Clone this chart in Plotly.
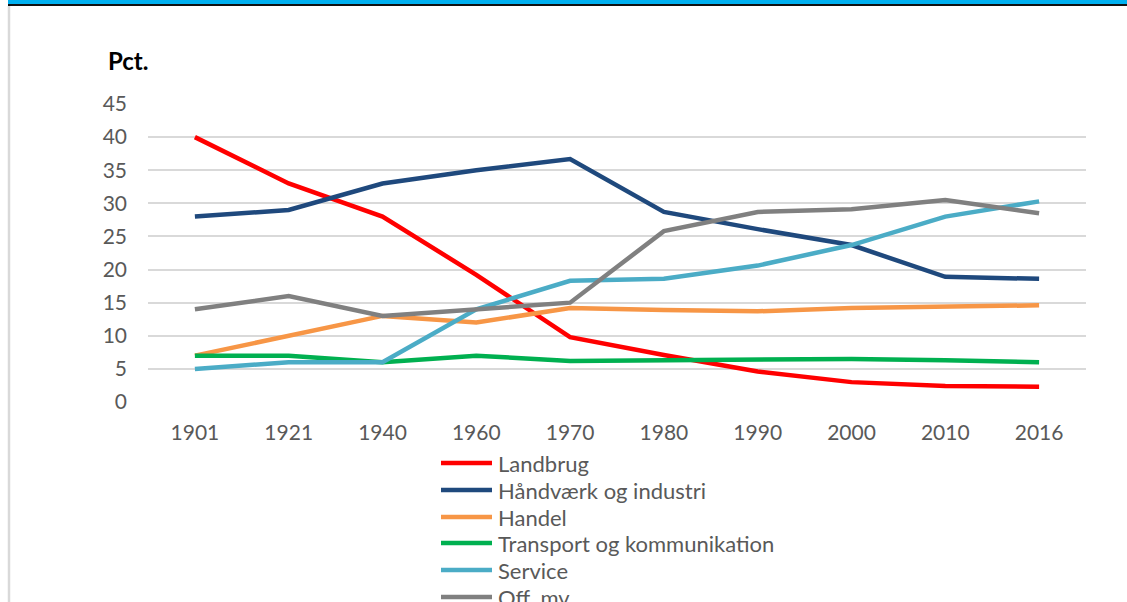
import plotly.graph_objects as go

years = ['1901', '1921', '1940', '1960', '1970', '1980', '1990', '2000', '2010', '2016']

landbrug = [40, 33, 28, 19.2, 9.8, 7.1, 4.6, 3.0, 2.4, 2.3]
industri = [28, 29, 33, 35, 36.7, 28.7, 26.1, 23.7, 18.9, 18.6]
handel = [7, 10, 13, 12, 14.2, 13.9, 13.7, 14.2, 14.4, 14.6]
transport = [7, 7, 6, 7, 6.2, 6.3, 6.5, 6.5, 6.3, 6.0]
service = [5, 6, 6, 14, 18.3, 18.6, 20.6, 23.7, 28.0, 30.3]
off_mv = [14, 16, 13, 14, 15.0, 25.8, 28.7, 29.1, 30.5, 28.5]

series_names = ['Landbrug', 'Håndværk og industri', 'Handel',
                'Transport og kommunikation', 'Service', 'Off. mv']
series_values = [landbrug, industri, handel, transport, service, off_mv]
colors = ['#ff0000', '#1f497d', '#f79646', '#00b050', '#4bacc6', '#808080']

W, H = 1127, 602
L, R, T, B = 148, 1086, 104, 402   # plot area in pixels


def px(x):
    return (x - L) / (R - L)


def py(y):
    return (B - y) / (B - T)


fig = go.Figure()
for name, vals, col in zip(series_names, series_values, colors):
    fig.add_trace(go.Scatter(
        x=years,
        y=vals,
        mode='lines',
        name=name,
        line=dict(color=col, width=4.5),
        showlegend=False
    ))

shapes = []
annotations = []

# legend drawn by hand, Excel style: long line sample + label
row_y = [463, 490, 517, 543, 570, 597]
for name, col, yy in zip(series_names, colors, row_y):
    shapes.append(dict(type='line', xref='paper', yref='paper',
                       x0=px(441), x1=px(492), y0=py(yy), y1=py(yy),
                       line=dict(color=col, width=4.5)))
    annotations.append(dict(text=name, xref='paper', yref='paper',
                            x=px(496), y=py(yy), xanchor='left', yanchor='middle',
                            showarrow=False,
                            font=dict(size=22, color='#595959')))

# frame bits of the cut page: blue title band and grey left border
shapes.append(dict(type='rect', xref='paper', yref='paper',
                   x0=px(8), x1=px(W + 5), y0=py(-5), y1=py(4.5),
                   fillcolor='#00b0f0', line=dict(width=0), layer='below'))
shapes.append(dict(type='line', xref='paper', yref='paper',
                   x0=px(8), x1=px(W + 5), y0=py(5), y1=py(5),
                   line=dict(color='#111111', width=2)))
shapes.append(dict(type='line', xref='paper', yref='paper',
                   x0=px(9), x1=px(9), y0=py(6), y1=py(H + 5),
                   line=dict(color='#d9d9d9', width=2.5)))

annotations.append(dict(text='<b>Pct.</b>', xref='paper', yref='paper',
                        x=px(106), y=py(60), xanchor='left', yanchor='middle',
                        showarrow=False, font=dict(size=24, color='#000000')))

fig.update_layout(
    width=W,
    height=H,
    plot_bgcolor='white',
    paper_bgcolor='white',
    font=dict(family='Lato, Open Sans, sans-serif', color='#595959', size=21),
    margin=dict(l=L, r=W - R, t=T, b=H - B, pad=0),
    xaxis=dict(type='category', range=[-0.5, 9.5], showgrid=False,
               showline=False, zeroline=False, ticks='',
               ticklabelstandoff=16, tickfont=dict(size=21)),
    yaxis=dict(range=[0, 45], dtick=5, showgrid=True, gridcolor='#d9d9d9',
               gridwidth=1.5, zeroline=False, showline=False, ticks='',
               ticklabelstandoff=20, tickfont=dict(size=21)),
    shapes=shapes,
    annotations=annotations,
    showlegend=False
)

# page body has an 8px default margin; drop it so the figure fills the window
fig.write_html("out.html", config={'displayModeBar': False},
               post_script="document.body.style.margin = '0';")
